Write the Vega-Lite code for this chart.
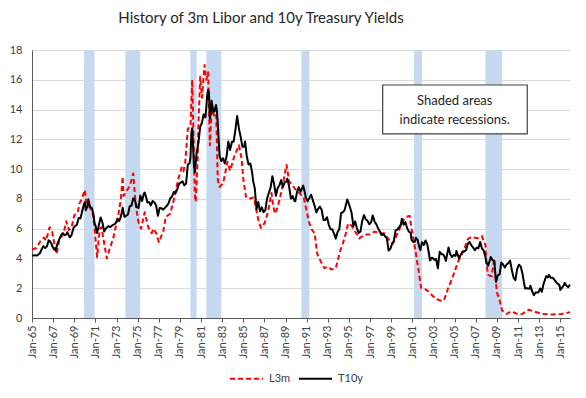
{
  "$schema": "https://vega.github.io/schema/vega-lite/v6.json",
  "width": 538,
  "height": 268,
  "autosize": {"type": "none"},
  "padding": {"left": 32, "top": 50, "right": 16, "bottom": 80},
  "background": "white",
  "title": {"text": "History of 3m Libor and 10y Treasury Yields", "font": "Lato", "fontSize": 15, "fontWeight": "normal", "color": "#262626", "anchor": "middle", "offset": 18, "dx": -40},
  "config": {"view": {"stroke": null}, "font": "Lato"},
  "resolve": {"axis": {"x": "independent", "y": "independent"}},
  "datasets": {
    "rec": [
      {"d": "1969-12", "d2": "1970-12"},
      {"d": "1973-11", "d2": "1975-04"},
      {"d": "1980-01", "d2": "1980-08"},
      {"d": "1981-07", "d2": "1982-12"},
      {"d": "1990-07", "d2": "1991-04"},
      {"d": "2001-03", "d2": "2001-12"},
      {"d": "2007-12", "d2": "2009-07"}
    ],
    "series": [
      {"s":"L3m","d":"1965-01","v":4.6},{"s":"L3m","d":"1965-06","v":4.7},{"s":"L3m","d":"1965-11","v":5.2},{"s":"L3m","d":"1966-03","v":5.4},{"s":"L3m","d":"1966-05","v":5.2},{"s":"L3m","d":"1966-09","v":6.1},{"s":"L3m","d":"1966-12","v":5.8},{"s":"L3m","d":"1967-03","v":4.8},{"s":"L3m","d":"1967-05","v":4.3},{"s":"L3m","d":"1967-08","v":5.2},
      {"s":"L3m","d":"1968-01","v":5.7},{"s":"L3m","d":"1968-04","v":6.5},{"s":"L3m","d":"1968-07","v":5.9},{"s":"L3m","d":"1968-10","v":6.1},{"s":"L3m","d":"1969-01","v":6.9},{"s":"L3m","d":"1969-05","v":7.1},{"s":"L3m","d":"1969-07","v":7.7},{"s":"L3m","d":"1969-10","v":8.05},{"s":"L3m","d":"1970-01","v":8.6},{"s":"L3m","d":"1970-03","v":7.7},
      {"s":"L3m","d":"1970-06","v":7.5},{"s":"L3m","d":"1970-10","v":7.0},{"s":"L3m","d":"1970-12","v":6.1},{"s":"L3m","d":"1971-03","v":4.1},{"s":"L3m","d":"1971-06","v":6.0},{"s":"L3m","d":"1971-08","v":6.1},{"s":"L3m","d":"1971-11","v":5.0},{"s":"L3m","d":"1972-02","v":4.0},{"s":"L3m","d":"1972-05","v":4.6},{"s":"L3m","d":"1972-09","v":5.3},
      {"s":"L3m","d":"1972-12","v":6.1},{"s":"L3m","d":"1973-03","v":6.9},{"s":"L3m","d":"1973-06","v":8.0},{"s":"L3m","d":"1973-08","v":9.5},{"s":"L3m","d":"1973-09","v":8.2},{"s":"L3m","d":"1973-12","v":8.5},{"s":"L3m","d":"1974-04","v":8.85},{"s":"L3m","d":"1974-08","v":9.7},{"s":"L3m","d":"1974-11","v":7.5},{"s":"L3m","d":"1975-02","v":6.4},
      {"s":"L3m","d":"1975-05","v":6.0},{"s":"L3m","d":"1975-09","v":7.1},{"s":"L3m","d":"1976-01","v":6.1},{"s":"L3m","d":"1976-05","v":5.7},{"s":"L3m","d":"1976-07","v":6.0},{"s":"L3m","d":"1976-10","v":5.7},{"s":"L3m","d":"1977-01","v":5.1},{"s":"L3m","d":"1977-06","v":5.8},{"s":"L3m","d":"1977-09","v":6.8},{"s":"L3m","d":"1978-02","v":7.0},
      {"s":"L3m","d":"1978-07","v":8.15},{"s":"L3m","d":"1978-11","v":9.3},{"s":"L3m","d":"1979-03","v":10.1},{"s":"L3m","d":"1979-05","v":9.85},{"s":"L3m","d":"1979-07","v":10.4},{"s":"L3m","d":"1979-10","v":12.7},{"s":"L3m","d":"1980-01","v":12.9},{"s":"L3m","d":"1980-03","v":16.0},{"s":"L3m","d":"1980-06","v":8.2},{"s":"L3m","d":"1980-07","v":7.8},
      {"s":"L3m","d":"1980-09","v":10.5},{"s":"L3m","d":"1980-10","v":13.0},{"s":"L3m","d":"1980-12","v":16.2},{"s":"L3m","d":"1981-02","v":14.8},{"s":"L3m","d":"1981-05","v":17.0},{"s":"L3m","d":"1981-07","v":16.0},{"s":"L3m","d":"1981-09","v":16.5},{"s":"L3m","d":"1981-11","v":11.6},{"s":"L3m","d":"1982-01","v":14.0},{"s":"L3m","d":"1982-04","v":13.6},
      {"s":"L3m","d":"1982-06","v":14.3},{"s":"L3m","d":"1982-08","v":9.3},{"s":"L3m","d":"1982-10","v":8.8},{"s":"L3m","d":"1983-01","v":9.0},{"s":"L3m","d":"1983-03","v":9.3},{"s":"L3m","d":"1983-07","v":10.5},{"s":"L3m","d":"1983-10","v":9.9},{"s":"L3m","d":"1984-03","v":10.9},{"s":"L3m","d":"1984-08","v":11.6},{"s":"L3m","d":"1984-11","v":10.7},
      {"s":"L3m","d":"1985-01","v":9.3},{"s":"L3m","d":"1985-04","v":8.15},{"s":"L3m","d":"1985-07","v":8.0},{"s":"L3m","d":"1986-01","v":8.1},{"s":"L3m","d":"1986-04","v":7.2},{"s":"L3m","d":"1986-06","v":6.6},{"s":"L3m","d":"1986-09","v":6.05},{"s":"L3m","d":"1987-01","v":6.35},{"s":"L3m","d":"1987-05","v":7.1},{"s":"L3m","d":"1987-09","v":8.4},
      {"s":"L3m","d":"1987-11","v":7.5},{"s":"L3m","d":"1988-01","v":7.0},{"s":"L3m","d":"1988-03","v":7.3},{"s":"L3m","d":"1988-06","v":7.9},{"s":"L3m","d":"1988-10","v":9.0},{"s":"L3m","d":"1989-02","v":10.3},{"s":"L3m","d":"1989-05","v":9.2},{"s":"L3m","d":"1989-09","v":8.9},{"s":"L3m","d":"1990-02","v":8.5},{"s":"L3m","d":"1990-05","v":8.4},
      {"s":"L3m","d":"1990-10","v":8.0},{"s":"L3m","d":"1991-03","v":6.6},{"s":"L3m","d":"1991-06","v":6.0},{"s":"L3m","d":"1991-10","v":5.7},{"s":"L3m","d":"1992-01","v":4.3},{"s":"L3m","d":"1992-05","v":3.8},{"s":"L3m","d":"1992-09","v":3.35},{"s":"L3m","d":"1993-01","v":3.45},{"s":"L3m","d":"1993-05","v":3.25},{"s":"L3m","d":"1993-10","v":3.35},
      {"s":"L3m","d":"1994-03","v":4.5},{"s":"L3m","d":"1994-06","v":5.0},{"s":"L3m","d":"1994-10","v":5.8},{"s":"L3m","d":"1994-12","v":6.35},{"s":"L3m","d":"1995-04","v":6.2},{"s":"L3m","d":"1995-07","v":5.9},{"s":"L3m","d":"1996-01","v":5.35},{"s":"L3m","d":"1996-06","v":5.6},{"s":"L3m","d":"1997-01","v":5.6},{"s":"L3m","d":"1997-06","v":5.8},
      {"s":"L3m","d":"1997-12","v":5.7},{"s":"L3m","d":"1998-05","v":5.7},{"s":"L3m","d":"1998-11","v":5.2},{"s":"L3m","d":"1999-03","v":5.0},{"s":"L3m","d":"1999-09","v":5.8},{"s":"L3m","d":"2000-03","v":6.6},{"s":"L3m","d":"2000-06","v":6.8},{"s":"L3m","d":"2000-10","v":6.85},{"s":"L3m","d":"2000-12","v":6.0},{"s":"L3m","d":"2001-04","v":4.7},
      {"s":"L3m","d":"2001-08","v":3.2},{"s":"L3m","d":"2001-11","v":2.0},{"s":"L3m","d":"2002-05","v":1.9},{"s":"L3m","d":"2002-11","v":1.55},{"s":"L3m","d":"2003-04","v":1.27},{"s":"L3m","d":"2003-10","v":1.15},{"s":"L3m","d":"2004-01","v":1.2},{"s":"L3m","d":"2004-05","v":1.9},{"s":"L3m","d":"2004-11","v":2.8},{"s":"L3m","d":"2005-05","v":3.8},
      {"s":"L3m","d":"2005-11","v":4.5},{"s":"L3m","d":"2006-04","v":5.3},{"s":"L3m","d":"2006-08","v":5.45},{"s":"L3m","d":"2007-03","v":5.35},{"s":"L3m","d":"2007-08","v":5.5},{"s":"L3m","d":"2007-10","v":5.15},{"s":"L3m","d":"2007-12","v":4.9},{"s":"L3m","d":"2008-01","v":3.7},{"s":"L3m","d":"2008-03","v":2.9},{"s":"L3m","d":"2008-07","v":2.8},
      {"s":"L3m","d":"2008-10","v":4.0},{"s":"L3m","d":"2008-11","v":2.9},{"s":"L3m","d":"2009-01","v":1.7},{"s":"L3m","d":"2009-04","v":1.2},{"s":"L3m","d":"2009-07","v":0.5},{"s":"L3m","d":"2009-12","v":0.27},{"s":"L3m","d":"2010-05","v":0.45},{"s":"L3m","d":"2010-11","v":0.3},{"s":"L3m","d":"2011-05","v":0.25},{"s":"L3m","d":"2012-01","v":0.55},
      {"s":"L3m","d":"2012-08","v":0.42},{"s":"L3m","d":"2013-04","v":0.27},{"s":"L3m","d":"2014-03","v":0.23},{"s":"L3m","d":"2015-02","v":0.27},{"s":"L3m","d":"2015-12","v":0.38},
      {"s":"T10y","d":"1965-01","v":4.19},{"s":"T10y","d":"1965-04","v":4.21},{"s":"T10y","d":"1965-07","v":4.2},{"s":"T10y","d":"1965-10","v":4.35},{"s":"T10y","d":"1965-12","v":4.62},{"s":"T10y","d":"1966-02","v":4.83},{"s":"T10y","d":"1966-04","v":4.7},{"s":"T10y","d":"1966-06","v":4.81},{"s":"T10y","d":"1966-08","v":5.22},{"s":"T10y","d":"1966-09","v":5.18},
      {"s":"T10y","d":"1966-11","v":5.01},{"s":"T10y","d":"1966-12","v":4.84},{"s":"T10y","d":"1967-02","v":4.62},{"s":"T10y","d":"1967-04","v":4.55},{"s":"T10y","d":"1967-06","v":5.0},{"s":"T10y","d":"1967-08","v":5.28},{"s":"T10y","d":"1967-10","v":5.56},{"s":"T10y","d":"1967-12","v":5.7},{"s":"T10y","d":"1968-02","v":5.56},{"s":"T10y","d":"1968-04","v":5.61},
      {"s":"T10y","d":"1968-05","v":5.76},{"s":"T10y","d":"1968-08","v":5.42},{"s":"T10y","d":"1968-10","v":5.58},{"s":"T10y","d":"1968-12","v":6.03},{"s":"T10y","d":"1969-02","v":6.19},{"s":"T10y","d":"1969-04","v":6.26},{"s":"T10y","d":"1969-06","v":6.72},{"s":"T10y","d":"1969-08","v":6.69},{"s":"T10y","d":"1969-10","v":7.16},{"s":"T10y","d":"1969-12","v":7.65},
      {"s":"T10y","d":"1970-01","v":7.79},{"s":"T10y","d":"1970-02","v":7.24},{"s":"T10y","d":"1970-04","v":7.48},{"s":"T10y","d":"1970-05","v":7.97},{"s":"T10y","d":"1970-07","v":7.46},{"s":"T10y","d":"1970-09","v":7.39},{"s":"T10y","d":"1970-11","v":6.87},{"s":"T10y","d":"1970-12","v":6.39},{"s":"T10y","d":"1971-01","v":6.24},{"s":"T10y","d":"1971-03","v":5.7},
      {"s":"T10y","d":"1971-05","v":6.25},{"s":"T10y","d":"1971-07","v":6.75},{"s":"T10y","d":"1971-09","v":6.42},{"s":"T10y","d":"1971-11","v":5.81},{"s":"T10y","d":"1971-12","v":5.93},{"s":"T10y","d":"1972-02","v":6.08},{"s":"T10y","d":"1972-04","v":6.17},{"s":"T10y","d":"1972-06","v":6.11},{"s":"T10y","d":"1972-08","v":6.21},{"s":"T10y","d":"1972-10","v":6.28},
      {"s":"T10y","d":"1972-12","v":6.36},{"s":"T10y","d":"1973-02","v":6.64},{"s":"T10y","d":"1973-04","v":6.51},{"s":"T10y","d":"1973-06","v":6.81},{"s":"T10y","d":"1973-08","v":7.4},{"s":"T10y","d":"1973-10","v":6.79},{"s":"T10y","d":"1973-12","v":6.87},{"s":"T10y","d":"1974-02","v":6.96},{"s":"T10y","d":"1974-04","v":7.51},{"s":"T10y","d":"1974-06","v":7.54},
      {"s":"T10y","d":"1974-08","v":8.04},{"s":"T10y","d":"1974-10","v":7.9},{"s":"T10y","d":"1974-12","v":7.43},{"s":"T10y","d":"1975-02","v":7.39},{"s":"T10y","d":"1975-04","v":8.23},{"s":"T10y","d":"1975-06","v":7.86},{"s":"T10y","d":"1975-08","v":8.33},{"s":"T10y","d":"1975-09","v":8.43},{"s":"T10y","d":"1975-11","v":8.05},{"s":"T10y","d":"1975-12","v":7.76},
      {"s":"T10y","d":"1976-02","v":7.79},{"s":"T10y","d":"1976-04","v":7.56},{"s":"T10y","d":"1976-06","v":7.86},{"s":"T10y","d":"1976-08","v":7.77},{"s":"T10y","d":"1976-10","v":7.56},{"s":"T10y","d":"1976-12","v":6.87},{"s":"T10y","d":"1977-02","v":7.39},{"s":"T10y","d":"1977-04","v":7.37},{"s":"T10y","d":"1977-06","v":7.28},{"s":"T10y","d":"1977-08","v":7.4},
      {"s":"T10y","d":"1977-10","v":7.52},{"s":"T10y","d":"1977-12","v":7.69},{"s":"T10y","d":"1978-02","v":8.03},{"s":"T10y","d":"1978-04","v":8.15},{"s":"T10y","d":"1978-06","v":8.46},{"s":"T10y","d":"1978-08","v":8.41},{"s":"T10y","d":"1978-10","v":8.64},{"s":"T10y","d":"1978-12","v":9.01},{"s":"T10y","d":"1979-02","v":9.1},{"s":"T10y","d":"1979-04","v":9.18},
      {"s":"T10y","d":"1979-06","v":8.91},{"s":"T10y","d":"1979-08","v":9.03},{"s":"T10y","d":"1979-10","v":10.3},{"s":"T10y","d":"1979-12","v":10.39},{"s":"T10y","d":"1980-01","v":10.8},{"s":"T10y","d":"1980-02","v":12.41},{"s":"T10y","d":"1980-03","v":12.75},{"s":"T10y","d":"1980-04","v":11.47},{"s":"T10y","d":"1980-05","v":10.18},{"s":"T10y","d":"1980-06","v":9.78},
      {"s":"T10y","d":"1980-08","v":11.1},{"s":"T10y","d":"1980-10","v":11.75},{"s":"T10y","d":"1980-12","v":12.84},{"s":"T10y","d":"1981-02","v":13.12},{"s":"T10y","d":"1981-04","v":13.68},{"s":"T10y","d":"1981-06","v":13.47},{"s":"T10y","d":"1981-08","v":14.94},{"s":"T10y","d":"1981-09","v":15.32},{"s":"T10y","d":"1981-10","v":15.15},{"s":"T10y","d":"1981-11","v":13.39},
      {"s":"T10y","d":"1981-12","v":13.72},{"s":"T10y","d":"1982-01","v":14.59},{"s":"T10y","d":"1982-03","v":13.86},{"s":"T10y","d":"1982-04","v":13.87},{"s":"T10y","d":"1982-06","v":14.3},{"s":"T10y","d":"1982-07","v":13.95},{"s":"T10y","d":"1982-08","v":13.06},{"s":"T10y","d":"1982-10","v":10.91},{"s":"T10y","d":"1982-12","v":10.54},{"s":"T10y","d":"1983-02","v":10.72},
      {"s":"T10y","d":"1983-04","v":10.38},{"s":"T10y","d":"1983-06","v":10.85},{"s":"T10y","d":"1983-08","v":11.85},{"s":"T10y","d":"1983-10","v":11.28},{"s":"T10y","d":"1983-12","v":11.83},{"s":"T10y","d":"1984-02","v":11.84},{"s":"T10y","d":"1984-04","v":12.63},{"s":"T10y","d":"1984-06","v":13.56},{"s":"T10y","d":"1984-08","v":12.72},{"s":"T10y","d":"1984-10","v":12.16},
      {"s":"T10y","d":"1984-12","v":11.5},{"s":"T10y","d":"1985-02","v":11.51},{"s":"T10y","d":"1985-03","v":11.86},{"s":"T10y","d":"1985-05","v":10.85},{"s":"T10y","d":"1985-07","v":10.31},{"s":"T10y","d":"1985-09","v":10.37},{"s":"T10y","d":"1985-11","v":9.78},{"s":"T10y","d":"1985-12","v":9.26},{"s":"T10y","d":"1986-02","v":8.7},{"s":"T10y","d":"1986-04","v":7.3},
      {"s":"T10y","d":"1986-06","v":7.8},{"s":"T10y","d":"1986-08","v":7.17},{"s":"T10y","d":"1986-10","v":7.43},{"s":"T10y","d":"1986-12","v":7.11},{"s":"T10y","d":"1987-02","v":7.25},{"s":"T10y","d":"1987-04","v":8.02},{"s":"T10y","d":"1987-06","v":8.4},{"s":"T10y","d":"1987-08","v":8.76},{"s":"T10y","d":"1987-10","v":9.52},{"s":"T10y","d":"1987-12","v":8.99},
      {"s":"T10y","d":"1988-02","v":8.21},{"s":"T10y","d":"1988-04","v":8.72},{"s":"T10y","d":"1988-06","v":8.92},{"s":"T10y","d":"1988-08","v":9.26},{"s":"T10y","d":"1988-10","v":8.8},{"s":"T10y","d":"1988-12","v":9.11},{"s":"T10y","d":"1989-02","v":9.17},{"s":"T10y","d":"1989-03","v":9.36},{"s":"T10y","d":"1989-05","v":8.86},{"s":"T10y","d":"1989-07","v":8.02},
      {"s":"T10y","d":"1989-09","v":8.19},{"s":"T10y","d":"1989-11","v":7.87},{"s":"T10y","d":"1989-12","v":7.84},{"s":"T10y","d":"1990-02","v":8.47},{"s":"T10y","d":"1990-04","v":8.79},{"s":"T10y","d":"1990-06","v":8.48},{"s":"T10y","d":"1990-08","v":8.75},{"s":"T10y","d":"1990-09","v":8.89},{"s":"T10y","d":"1990-11","v":8.39},{"s":"T10y","d":"1990-12","v":8.08},
      {"s":"T10y","d":"1991-02","v":7.85},{"s":"T10y","d":"1991-04","v":8.04},{"s":"T10y","d":"1991-06","v":8.28},{"s":"T10y","d":"1991-08","v":7.9},{"s":"T10y","d":"1991-10","v":7.53},{"s":"T10y","d":"1991-12","v":7.09},{"s":"T10y","d":"1992-02","v":7.34},{"s":"T10y","d":"1992-04","v":7.48},{"s":"T10y","d":"1992-06","v":7.26},{"s":"T10y","d":"1992-08","v":6.59},
      {"s":"T10y","d":"1992-10","v":6.59},{"s":"T10y","d":"1992-12","v":6.77},{"s":"T10y","d":"1993-02","v":6.26},{"s":"T10y","d":"1993-04","v":5.97},{"s":"T10y","d":"1993-06","v":5.96},{"s":"T10y","d":"1993-08","v":5.68},{"s":"T10y","d":"1993-10","v":5.33},{"s":"T10y","d":"1993-12","v":5.77},{"s":"T10y","d":"1994-02","v":5.97},{"s":"T10y","d":"1994-04","v":7.04},
      {"s":"T10y","d":"1994-06","v":7.1},{"s":"T10y","d":"1994-08","v":7.24},{"s":"T10y","d":"1994-11","v":7.96},{"s":"T10y","d":"1994-12","v":7.81},{"s":"T10y","d":"1995-02","v":7.47},{"s":"T10y","d":"1995-04","v":7.06},{"s":"T10y","d":"1995-06","v":6.17},{"s":"T10y","d":"1995-08","v":6.49},{"s":"T10y","d":"1995-10","v":6.04},{"s":"T10y","d":"1995-12","v":5.71},
      {"s":"T10y","d":"1996-02","v":5.81},{"s":"T10y","d":"1996-04","v":6.51},{"s":"T10y","d":"1996-06","v":6.91},{"s":"T10y","d":"1996-08","v":6.64},{"s":"T10y","d":"1996-10","v":6.53},{"s":"T10y","d":"1996-12","v":6.3},{"s":"T10y","d":"1997-02","v":6.42},{"s":"T10y","d":"1997-04","v":6.89},{"s":"T10y","d":"1997-06","v":6.49},{"s":"T10y","d":"1997-08","v":6.3},
      {"s":"T10y","d":"1997-10","v":6.03},{"s":"T10y","d":"1997-12","v":5.81},{"s":"T10y","d":"1998-02","v":5.57},{"s":"T10y","d":"1998-04","v":5.64},{"s":"T10y","d":"1998-06","v":5.5},{"s":"T10y","d":"1998-08","v":5.34},{"s":"T10y","d":"1998-10","v":4.53},{"s":"T10y","d":"1998-12","v":4.65},{"s":"T10y","d":"1999-02","v":5.0},{"s":"T10y","d":"1999-04","v":5.18},
      {"s":"T10y","d":"1999-06","v":5.9},{"s":"T10y","d":"1999-08","v":5.94},{"s":"T10y","d":"1999-10","v":6.11},{"s":"T10y","d":"1999-12","v":6.28},{"s":"T10y","d":"2000-01","v":6.66},{"s":"T10y","d":"2000-03","v":6.26},{"s":"T10y","d":"2000-05","v":6.44},{"s":"T10y","d":"2000-07","v":6.05},{"s":"T10y","d":"2000-09","v":5.8},{"s":"T10y","d":"2000-11","v":5.72},
      {"s":"T10y","d":"2000-12","v":5.24},{"s":"T10y","d":"2001-02","v":5.1},{"s":"T10y","d":"2001-04","v":5.14},{"s":"T10y","d":"2001-05","v":5.39},{"s":"T10y","d":"2001-07","v":5.24},{"s":"T10y","d":"2001-09","v":4.73},{"s":"T10y","d":"2001-10","v":4.57},{"s":"T10y","d":"2001-12","v":5.09},{"s":"T10y","d":"2002-02","v":4.91},{"s":"T10y","d":"2002-04","v":5.21},
      {"s":"T10y","d":"2002-06","v":4.93},{"s":"T10y","d":"2002-08","v":4.26},{"s":"T10y","d":"2002-09","v":3.87},{"s":"T10y","d":"2002-11","v":4.05},{"s":"T10y","d":"2002-12","v":4.03},{"s":"T10y","d":"2003-02","v":3.9},{"s":"T10y","d":"2003-04","v":3.96},{"s":"T10y","d":"2003-06","v":3.33},{"s":"T10y","d":"2003-08","v":4.45},{"s":"T10y","d":"2003-10","v":4.29},
      {"s":"T10y","d":"2003-12","v":4.27},{"s":"T10y","d":"2004-02","v":4.06},{"s":"T10y","d":"2004-03","v":3.83},{"s":"T10y","d":"2004-06","v":4.73},{"s":"T10y","d":"2004-08","v":4.28},{"s":"T10y","d":"2004-10","v":4.1},{"s":"T10y","d":"2004-12","v":4.23},{"s":"T10y","d":"2005-02","v":4.17},{"s":"T10y","d":"2005-03","v":4.5},{"s":"T10y","d":"2005-06","v":4.0},
      {"s":"T10y","d":"2005-08","v":4.26},{"s":"T10y","d":"2005-10","v":4.46},{"s":"T10y","d":"2005-12","v":4.47},{"s":"T10y","d":"2006-02","v":4.57},{"s":"T10y","d":"2006-04","v":4.99},{"s":"T10y","d":"2006-06","v":5.11},{"s":"T10y","d":"2006-08","v":4.88},{"s":"T10y","d":"2006-10","v":4.73},{"s":"T10y","d":"2006-12","v":4.56},{"s":"T10y","d":"2007-02","v":4.72},
      {"s":"T10y","d":"2007-04","v":4.69},{"s":"T10y","d":"2007-06","v":5.1},{"s":"T10y","d":"2007-08","v":4.67},{"s":"T10y","d":"2007-10","v":4.53},{"s":"T10y","d":"2007-12","v":4.1},{"s":"T10y","d":"2008-01","v":3.74},{"s":"T10y","d":"2008-03","v":3.51},{"s":"T10y","d":"2008-05","v":3.88},{"s":"T10y","d":"2008-06","v":4.1},{"s":"T10y","d":"2008-08","v":3.89},
      {"s":"T10y","d":"2008-10","v":3.81},{"s":"T10y","d":"2008-12","v":2.42},{"s":"T10y","d":"2009-02","v":2.87},{"s":"T10y","d":"2009-04","v":2.93},{"s":"T10y","d":"2009-06","v":3.72},{"s":"T10y","d":"2009-08","v":3.59},{"s":"T10y","d":"2009-10","v":3.39},{"s":"T10y","d":"2009-12","v":3.59},{"s":"T10y","d":"2010-02","v":3.69},{"s":"T10y","d":"2010-04","v":3.85},
      {"s":"T10y","d":"2010-06","v":3.2},{"s":"T10y","d":"2010-08","v":2.7},{"s":"T10y","d":"2010-10","v":2.54},{"s":"T10y","d":"2010-12","v":3.29},{"s":"T10y","d":"2011-02","v":3.58},{"s":"T10y","d":"2011-04","v":3.46},{"s":"T10y","d":"2011-06","v":3.0},{"s":"T10y","d":"2011-08","v":2.3},{"s":"T10y","d":"2011-09","v":1.98},{"s":"T10y","d":"2011-11","v":2.01},
      {"s":"T10y","d":"2011-12","v":1.98},{"s":"T10y","d":"2012-02","v":1.97},{"s":"T10y","d":"2012-03","v":2.17},{"s":"T10y","d":"2012-05","v":1.8},{"s":"T10y","d":"2012-07","v":1.53},{"s":"T10y","d":"2012-09","v":1.72},{"s":"T10y","d":"2012-12","v":1.72},{"s":"T10y","d":"2013-02","v":1.98},{"s":"T10y","d":"2013-04","v":1.76},{"s":"T10y","d":"2013-06","v":2.3},
      {"s":"T10y","d":"2013-09","v":2.81},{"s":"T10y","d":"2013-11","v":2.72},{"s":"T10y","d":"2013-12","v":2.9},{"s":"T10y","d":"2014-02","v":2.71},{"s":"T10y","d":"2014-04","v":2.71},{"s":"T10y","d":"2014-06","v":2.6},{"s":"T10y","d":"2014-08","v":2.42},{"s":"T10y","d":"2014-10","v":2.3},{"s":"T10y","d":"2014-12","v":2.21},{"s":"T10y","d":"2015-01","v":1.88},
      {"s":"T10y","d":"2015-03","v":2.04},{"s":"T10y","d":"2015-05","v":2.2},{"s":"T10y","d":"2015-06","v":2.36},{"s":"T10y","d":"2015-08","v":2.17},{"s":"T10y","d":"2015-10","v":2.07},{"s":"T10y","d":"2015-12","v":2.24}
    ]
  },
  "layer": [
    {
      "data": {"name": "rec"},
      "mark": {"type": "rect", "color": "#C6D9F1", "opacity": 1},
      "encoding": {
        "x": {"field": "d", "type": "temporal", "title": null, "axis": null, "scale": {"type": "utc", "domain": [{"year": 1965, "month": 1, "date": 1, "utc": true}, {"year": 2015, "month": 12, "date": 1, "utc": true}]}},
        "x2": {"field": "d2"},
        "y": {"datum": 0, "type": "quantitative", "title": null, "axis": null, "scale": {"domain": [0, 18], "nice": false}},
        "y2": {"datum": 18}
      }
    },
    {
      "data": {"name": "series"},
      "mark": {"type": "line", "strokeWidth": 2, "strokeJoin": "round"},
      "encoding": {
        "x": {"field": "d", "type": "temporal", "title": null,
          "scale": {"type": "utc", "domain": [{"year": 1965, "month": 1, "date": 1, "utc": true}, {"year": 2015, "month": 12, "date": 1, "utc": true}]},
          "axis": {"title": null, "labelExpr": "utcFormat(datum.value, '%b-%y')", "labelAngle": 270, "labelFont": "Lato", "labelFontSize": 11, "labelColor": "#404040", "ticks": true, "tickSize": 4, "tickColor": "#595959", "domainColor": "#595959", "domainWidth": 1, "labelPadding": 3, "grid": false, "labelOverlap": false, "labelFlush": false,
            "values": [
              {"year": 1965, "month": 1, "date": 1, "utc": true}, {"year": 1967, "month": 1, "date": 1, "utc": true}, {"year": 1969, "month": 1, "date": 1, "utc": true}, {"year": 1971, "month": 1, "date": 1, "utc": true}, {"year": 1973, "month": 1, "date": 1, "utc": true},
              {"year": 1975, "month": 1, "date": 1, "utc": true}, {"year": 1977, "month": 1, "date": 1, "utc": true}, {"year": 1979, "month": 1, "date": 1, "utc": true}, {"year": 1981, "month": 1, "date": 1, "utc": true}, {"year": 1983, "month": 1, "date": 1, "utc": true},
              {"year": 1985, "month": 1, "date": 1, "utc": true}, {"year": 1987, "month": 1, "date": 1, "utc": true}, {"year": 1989, "month": 1, "date": 1, "utc": true}, {"year": 1991, "month": 1, "date": 1, "utc": true}, {"year": 1993, "month": 1, "date": 1, "utc": true},
              {"year": 1995, "month": 1, "date": 1, "utc": true}, {"year": 1997, "month": 1, "date": 1, "utc": true}, {"year": 1999, "month": 1, "date": 1, "utc": true}, {"year": 2001, "month": 1, "date": 1, "utc": true}, {"year": 2003, "month": 1, "date": 1, "utc": true},
              {"year": 2005, "month": 1, "date": 1, "utc": true}, {"year": 2007, "month": 1, "date": 1, "utc": true}, {"year": 2009, "month": 1, "date": 1, "utc": true}, {"year": 2011, "month": 1, "date": 1, "utc": true}, {"year": 2013, "month": 1, "date": 1, "utc": true},
              {"year": 2015, "month": 1, "date": 1, "utc": true}
            ]}},
        "y": {"field": "v", "type": "quantitative", "title": null, "scale": {"domain": [0, 18], "nice": false},
          "axis": {"title": null, "values": [0, 2, 4, 6, 8, 10, 12, 14, 16, 18], "grid": true, "gridColor": "#D9D9D9", "gridWidth": 1, "ticks": false, "domain": true, "domainColor": "#595959", "labelPadding": 10, "labelFont": "Lato", "labelFontSize": 11, "labelColor": "#404040"}},
        "color": {"field": "s", "type": "nominal", "scale": {"domain": ["L3m", "T10y"], "range": ["#FF0000", "#000000"]},
          "legend": {"title": null, "orient": "none", "legendX": 197, "legendY": 311, "direction": "horizontal", "symbolType": "stroke", "symbolSize": 1089, "symbolStrokeWidth": 2, "labelFont": "Lato", "labelFontSize": 11, "labelColor": "#404040", "columnPadding": 4, "labelOffset": 5}},
        "strokeDash": {"field": "s", "type": "nominal", "scale": {"domain": ["L3m", "T10y"], "range": [[5, 3], [1, 0]]},
          "legend": {"title": null, "orient": "none", "legendX": 197, "legendY": 311, "direction": "horizontal", "symbolType": "stroke", "symbolSize": 1089, "symbolStrokeWidth": 2, "labelFont": "Lato", "labelFontSize": 11, "labelColor": "#404040", "columnPadding": 4, "labelOffset": 5}}
      }
    },
    {
      "data": {"values": [{}]},
      "mark": {"type": "rect", "fill": "white", "stroke": "#404040", "strokeWidth": 1.2},
      "encoding": {
        "x": {"datum": {"year": 1998, "month": 3, "date": 10, "utc": true}, "type": "temporal", "title": null, "axis": null},
        "x2": {"datum": {"year": 2011, "month": 11, "date": 15, "utc": true}},
        "y": {"datum": 15.65, "type": "quantitative", "title": null, "axis": null},
        "y2": {"datum": 12.36}
      }
    },
    {
      "data": {"values": [{}]},
      "mark": {"type": "text", "text": ["Shaded areas", "indicate recessions."], "font": "Lato", "fontSize": 13, "color": "#262626", "align": "center", "baseline": "middle", "lineHeight": 19},
      "encoding": {
        "x": {"datum": {"year": 2005, "month": 1, "date": 1, "utc": true}, "type": "temporal", "title": null, "axis": null},
        "y": {"datum": 14.57, "type": "quantitative", "title": null, "axis": null}
      }
    }
  ]
}
